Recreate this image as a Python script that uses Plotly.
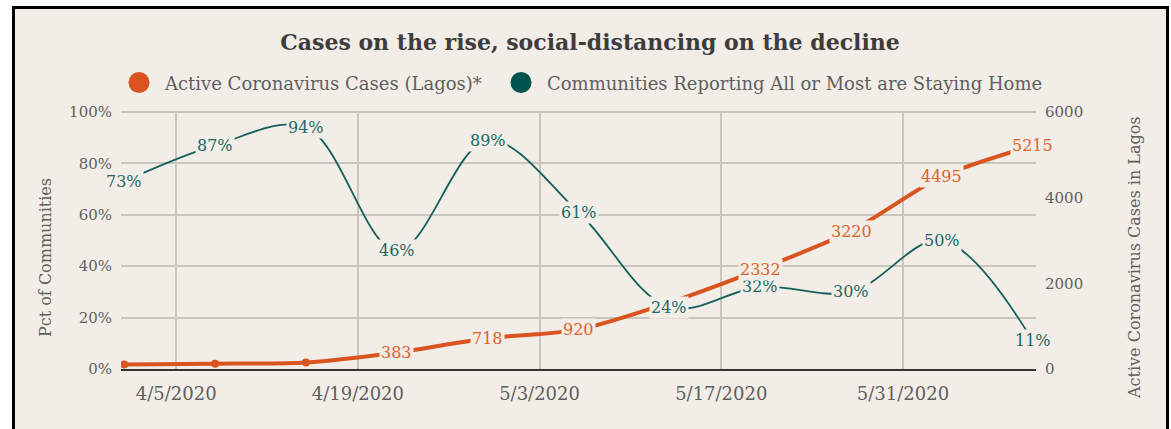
import plotly.graph_objects as go

# Weekly observations
dates = ["2020-04-01", "2020-04-08", "2020-04-15", "2020-04-22", "2020-04-29",
         "2020-05-06", "2020-05-13", "2020-05-20", "2020-05-27", "2020-06-03",
         "2020-06-10"]
active_cases = [105, 125, 150, 383, 718, 920, 1550, 2332, 3220, 4495, 5215]
case_label_shown = [False, False, False, True, True, True, False, True, True, True, True]
staying_home_pct = [73, 87, 94, 46, 89, 61, 24, 32, 30, 50, 11]

x_tick_vals = ["2020-04-05", "2020-04-19", "2020-05-03", "2020-05-17", "2020-05-31"]
x_tick_text = ["4/5/2020", "4/19/2020", "5/3/2020", "5/17/2020", "5/31/2020"]
pct_ticks = [0, 20, 40, 60, 80, 100]
pct_tick_text = ["0%", "20%", "40%", "60%", "80%", "100%"]
case_ticks = [0, 2000, 4000, 6000]

title_text = "Cases on the rise, social-distancing on the decline"
legend_cases = "Active Coronavirus Cases (Lagos)*"
legend_home = "Communities Reporting All or Most are Staying Home"

BG = "#f2ede7"
ORANGE = "#d9541e"
ORANGE_TXT = "#e0622b"
TEAL = "#135f5a"
TEAL_TXT = "#1d6a66"
TEAL_DOT = "#00534e"
GRID = "#c9c5bf"
GRAY = "#5f5f5f"
FONT = "DejaVu Serif"

W, H = 1171, 429
L, R, T, B = 121, 1036, 111, 369


def px(x):
    return (x - L) / (R - L)


def py(y):
    return (B - y) / (B - T)


fig = go.Figure()

fig.add_trace(go.Scatter(
    x=dates, y=staying_home_pct, mode="lines",
    line=dict(color=TEAL, width=1.8, shape="spline", smoothing=1.0),
    showlegend=False, hoverinfo="skip"))

fig.add_trace(go.Scatter(
    x=dates, y=active_cases, mode="lines+markers", yaxis="y2",
    line=dict(color=ORANGE, width=4, shape="spline", smoothing=0.8),
    marker=dict(color=ORANGE, size=8),
    showlegend=False, hoverinfo="skip"))

annotations = []
for d, v in zip(dates, staying_home_pct):
    annotations.append(dict(
        x=d, y=v, xref="x", yref="y", text=f"{v}%", showarrow=False,
        xanchor="center", yanchor="middle", bgcolor=BG, borderpad=1,
        font=dict(family=FONT, size=16, color=TEAL_TXT)))
for d, v, show in zip(dates, active_cases, case_label_shown):
    if show:
        annotations.append(dict(
            x=d, y=v, xref="x", yref="y2", text=str(v), showarrow=False,
            xanchor="center", yanchor="middle", bgcolor=BG, borderpad=1,
            font=dict(family=FONT, size=16, color=ORANGE_TXT)))

# Legend entries
annotations.append(dict(x=px(162), y=py(83), xref="paper", yref="paper",
                        text=legend_cases, showarrow=False, xanchor="left",
                        yanchor="middle",
                        font=dict(family=FONT, size=18, color=GRAY)))
annotations.append(dict(x=px(545), y=py(83), xref="paper", yref="paper",
                        text=legend_home, showarrow=False, xanchor="left",
                        yanchor="middle",
                        font=dict(family=FONT, size=18, color=GRAY)))

# Axis titles
annotations.append(dict(x=px(45), y=py(258), xref="paper", yref="paper",
                        text="Pct of Communities", textangle=-90,
                        showarrow=False, xanchor="center", yanchor="middle",
                        font=dict(family=FONT, size=16, color=GRAY)))
annotations.append(dict(x=px(1134), y=py(258), xref="paper", yref="paper",
                        text="Active Coronavirus Cases in Lagos", textangle=-90,
                        showarrow=False, xanchor="center", yanchor="middle",
                        font=dict(family=FONT, size=16, color=GRAY)))

shapes = [
    # framed card
    dict(type="rect", xref="paper", yref="paper",
         x0=px(13.5), x1=px(1167.5), y0=py(445), y1=py(7.5),
         fillcolor=BG, line=dict(color="#000000", width=3), layer="below"),
    # legend dots
    dict(type="circle", xref="paper", yref="paper",
         x0=px(128.5), x1=px(149.5), y0=py(93), y1=py(72),
         fillcolor=ORANGE, line=dict(width=0)),
    dict(type="circle", xref="paper", yref="paper",
         x0=px(510.5), x1=px(531.5), y0=py(93), y1=py(72),
         fillcolor=TEAL_DOT, line=dict(width=0)),
]

fig.update_layout(
    width=W, height=H,
    margin=dict(l=L, r=W - R, t=T, b=H - B, pad=0),
    paper_bgcolor="#ffffff",
    plot_bgcolor="rgba(0,0,0,0)",
    title=dict(text=f"<b>{title_text}</b>", x=590 / W, y=1 - 42 / H,
               xanchor="center", yanchor="middle", xref="container",
               yref="container",
               font=dict(family=FONT, size=22, color="#3d3d3d")),
    xaxis=dict(
        type="date", range=["2020-03-31 18:00", "2020-06-10 06:00"],
        tickvals=x_tick_vals, ticktext=x_tick_text,
        showgrid=True, gridcolor=GRID, gridwidth=1.5,
        showline=True, linecolor="#333333", linewidth=2,
        ticks="outside", ticklen=7, tickcolor="rgba(0,0,0,0)",
        tickfont=dict(family=FONT, size=18, color=GRAY),
        zeroline=False, fixedrange=True),
    yaxis=dict(
        range=[0, 100.4], tickvals=pct_ticks, ticktext=pct_tick_text,
        showgrid=True, gridcolor=GRID, gridwidth=1.5, zeroline=False,
        ticks="outside", ticklen=5, tickcolor="rgba(0,0,0,0)",
        tickfont=dict(family=FONT, size=15, color=GRAY)),
    yaxis2=dict(
        range=[0, 6024], tickvals=case_ticks, overlaying="y", side="right",
        showgrid=False, zeroline=False,
        ticks="outside", ticklen=5, tickcolor="rgba(0,0,0,0)",
        tickfont=dict(family=FONT, size=15, color=GRAY)),
    annotations=annotations,
    shapes=shapes,
)

fig.write_html("out.html")
